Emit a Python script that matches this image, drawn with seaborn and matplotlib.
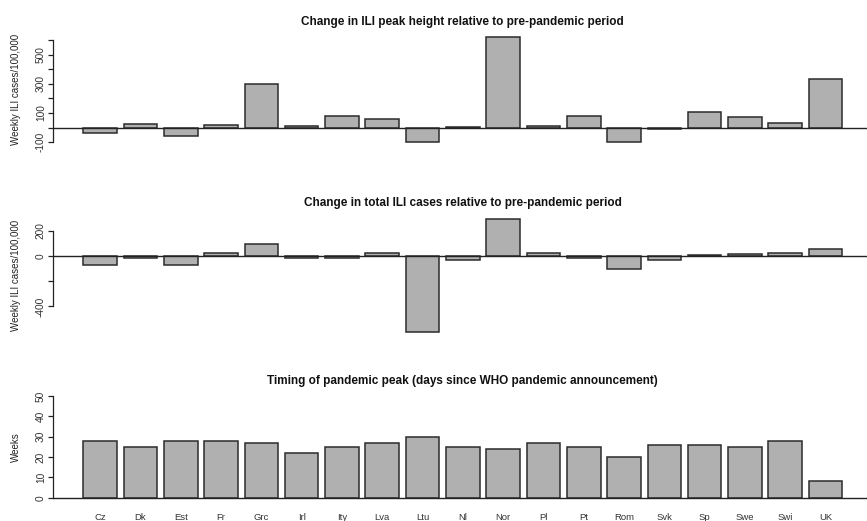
import numpy as np
import matplotlib
matplotlib.use("Agg")
import matplotlib.pyplot as plt
import seaborn as sns

# countries (x axis) and the three series
countries = ['Cz', 'Dk', 'Est', 'Fr', 'Grc', 'Irl', 'Ity', 'Lva', 'Ltu', 'Nl',
             'Nor', 'Pl', 'Pt', 'Rom', 'Svk', 'Sp', 'Swe', 'Swi', 'UK']
peak_change = [-34, 23, -55, 16, 300, 12, 81, 58, -97, 7,
               621, 12, 81, -101, -7, 108, 72, 34, 331]
total_change = [-69, -19, -69, 26, 97, -13, -18, 21, -606, -29,
                298, 26, -18, -105, -32, 5, 13, 21, 55]
peak_weeks = [28, 25, 28, 28, 27, 22, 25, 27, 30, 25,
              24, 27, 25, 20, 26, 26, 25, 28, 8]

titles = ['Change in ILI peak height relative to pre-pandemic period',
          'Change in total ILI cases relative to pre-pandemic period',
          'Timing of pandemic peak (days since WHO pandemic announcement)']
ylabels = ['Weekly ILI cases/100,000', 'Weekly ILI cases/100,000', 'Weeks']

sns.set_style("white")
plt.rcParams['font.family'] = ['Liberation Sans', 'DejaVu Sans']

fig = plt.figure(figsize=(8.67, 5.21), dpi=100)

# axes boxes in figure fractions (left, bottom, width, height)
boxes = [(0.0611, 0.7182, 0.9455, 0.2185),
         (0.0611, 0.3532, 0.9455, 0.2361),
         (0.0611, 0.0369, 0.9455, 0.2107)]
ylims = [(-132, 650), (-642, 334), (-2, 52)]
yticks = [np.arange(-100, 601, 100), np.arange(-400, 201, 200), np.arange(0, 51, 10)]
ylabeled = [[-100, 100, 300, 500], [-400, 0, 200], [0, 10, 20, 30, 40, 50]]
series = [peak_change, total_change, peak_weeks]

bar_fill = '#b0b0b0'
edge = '#2b2b2b'

for i in range(3):
    ax = fig.add_axes(boxes[i])
    sns.barplot(x=countries, y=series[i], ax=ax, color=bar_fill,
                edgecolor=edge, linewidth=1.1, width=1 / 1.2,
                saturation=1, errorbar=None)
    ax.axhline(0, color='#222222', lw=1.0, zorder=3)
    ax.set_xlim(-1.17, 19.17)
    ax.set_ylim(*ylims[i])

    for s in ['top', 'right', 'bottom']:
        ax.spines[s].set_visible(False)
    ax.spines['left'].set_bounds(yticks[i][0], yticks[i][-1])
    ax.spines['left'].set_color('#222222')
    ax.spines['left'].set_linewidth(0.9)

    ax.set_yticks(yticks[i])
    ax.set_yticklabels([str(v) if v in ylabeled[i] else '' for v in yticks[i]],
                       rotation=90, va='center', fontsize=7.3, color='#333333')
    ax.tick_params(axis='y', direction='out', length=3.6, width=0.9,
                   color='#222222', pad=1.5, left=True)

    if i == 2:
        ax.tick_params(axis='x', length=0, pad=8, labelsize=6.8,
                       labelcolor='#333333')
    else:
        ax.set_xticks([])

    ax.set_ylabel(ylabels[i], fontsize=7.0, color='#222222')
    ax.yaxis.set_label_coords(-0.039, 0.5)
    ax.set_title(titles[i], fontsize=8.5, fontweight='bold', color='#111111', pad=6)
    ax.set_facecolor('white')

fig.savefig('out.png', dpi=100)
